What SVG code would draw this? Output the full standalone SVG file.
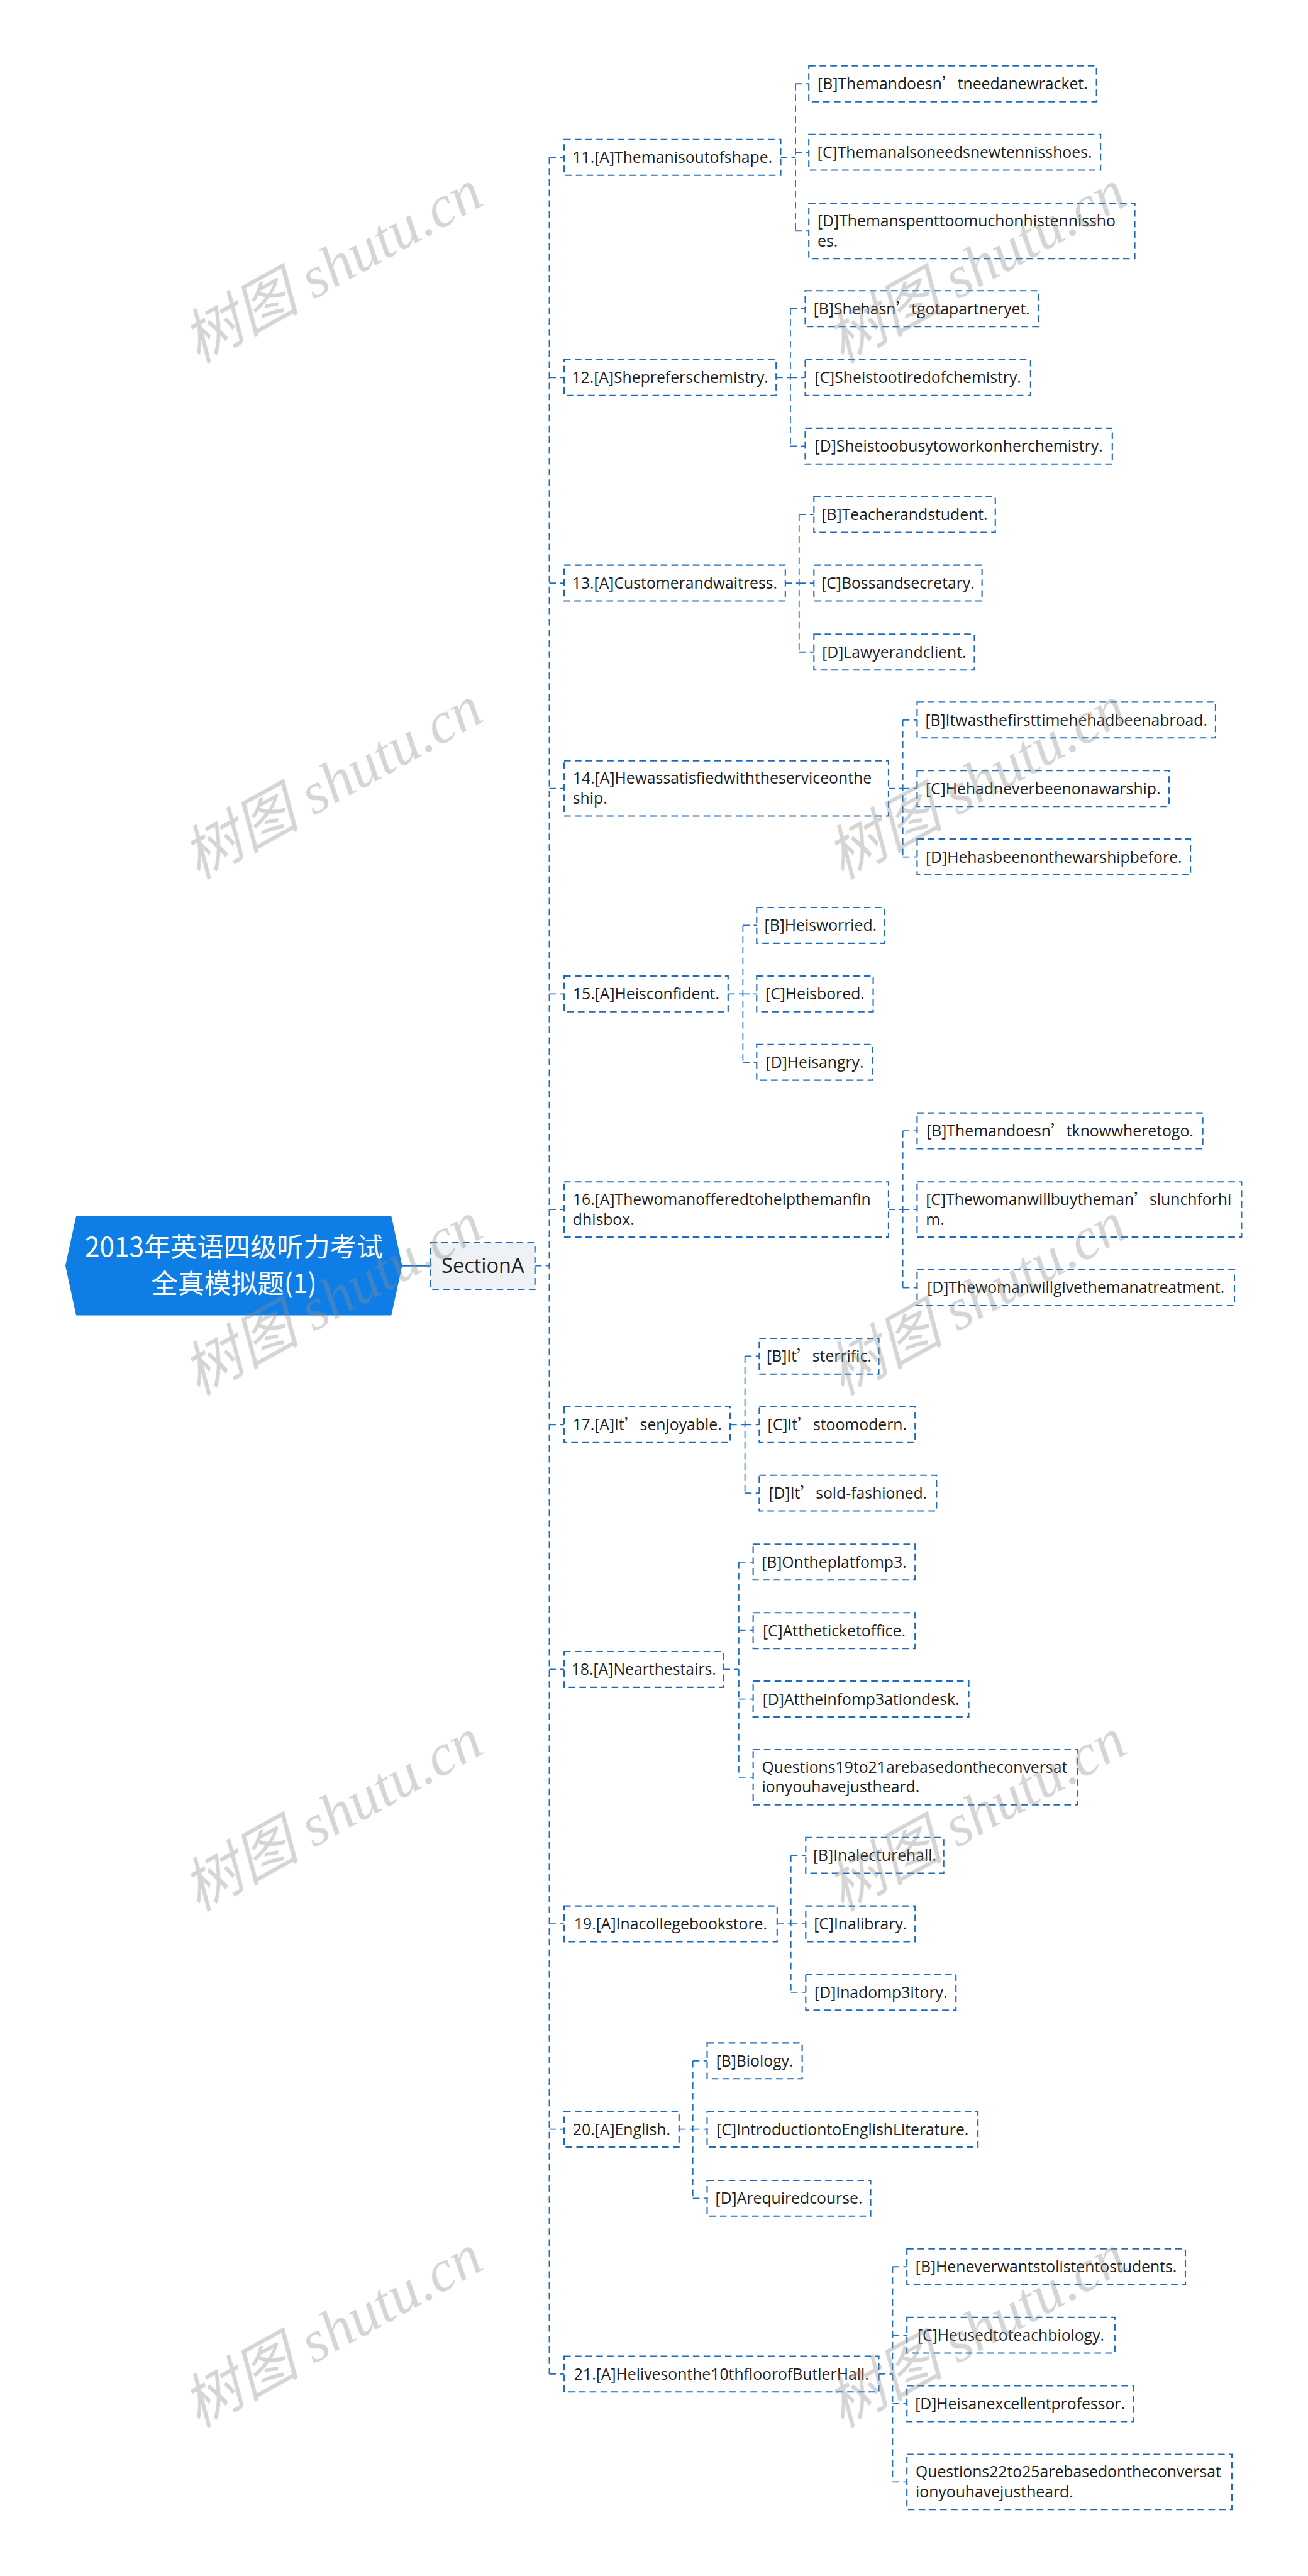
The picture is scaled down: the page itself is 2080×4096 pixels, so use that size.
<svg xmlns="http://www.w3.org/2000/svg" width="2080" height="4096" viewBox="0 0 2080 4096">
<style>
.box{fill:#fff;stroke:#1D6BBA;stroke-width:2.6;stroke-dasharray:13 8}
.sec{fill:#EEF1F5;stroke:#1D6BBA;stroke-width:2.6;stroke-dasharray:13 8}
.t{font-family:"Open Sans","Noto Sans CJK SC",sans-serif;font-size:30.5px;fill:#1e1e1e}
.c{text-anchor:middle}
.q{font-family:"Noto Sans CJK SC",sans-serif}
.conn path{fill:none;stroke:#1E6FC2;stroke-width:2.2;stroke-dasharray:13 8}
.wm{font-family:"Liberation Serif","Noto Sans CJK SC",serif;font-style:italic;font-size:115px;fill:#8f8f8f;opacity:.38;text-anchor:middle}
</style>
<rect width="2080" height="4096" fill="#fff"/>
<g transform="scale(0.8125)">
<g id="connectors" class="conn">
<line x1="787" y1="2477" x2="843" y2="2477" stroke="#1A6FC4" stroke-width="3"/>
<path d="M1047,2477H1075 M1075,308V4646 M1075,308H1104 M1075,739H1104 M1075,1141H1104 M1075,1543H1104 M1075,1945H1104 M1075,2367H1104 M1075,2788H1104 M1075,3267H1104 M1075,3765H1104 M1075,4167H1104 M1075,4646H1104"/>
<path d="M1528,308H1557 M1557,164V452 M1557,164H1583 M1557,298H1583 M1557,452H1583"/>
<path d="M1519,739H1547 M1547,604V873 M1547,604H1576 M1547,739H1576 M1547,873H1576"/>
<path d="M1537,1141H1564 M1564,1007V1276 M1564,1007H1593 M1564,1141H1593 M1564,1276H1593"/>
<path d="M1739,1543H1767 M1767,1409V1677 M1767,1409H1795 M1767,1543H1795 M1767,1677H1795"/>
<path d="M1425,1945H1454 M1454,1811V2079 M1454,1811H1481 M1454,1945H1481 M1454,2079H1481"/>
<path d="M1739,2367H1767 M1767,2213V2520 M1767,2213H1795 M1767,2367H1795 M1767,2520H1795"/>
<path d="M1429,2788H1458 M1458,2654V2922 M1458,2654H1486 M1458,2788H1486 M1458,2922H1486"/>
<path d="M1416,3267H1446 M1446,3057V3478 M1446,3057H1474 M1446,3191H1474 M1446,3325H1474 M1446,3478H1474"/>
<path d="M1521,3765H1548 M1548,3631V3899 M1548,3631H1577 M1548,3765H1577 M1548,3899H1577"/>
<path d="M1329,4167H1356 M1356,4033V4302 M1356,4033H1384 M1356,4167H1384 M1356,4302H1384"/>
<path d="M1720,4646H1747 M1747,4436V4857 M1747,4436H1775 M1747,4570H1775 M1747,4704H1775 M1747,4857H1775"/>
</g>
<g id="n-root">
<polygon points="149,2380 766,2380 787,2477 766,2574 149,2574 128,2477" fill="#0E7EE6"/>
<text x="458" y="2459" font-family="'Noto Sans CJK SC',sans-serif" font-size="52" fill="#fff" text-anchor="middle">2013年英语四级听力考试</text>
<text x="458" y="2530" font-family="'Noto Sans CJK SC',sans-serif" font-size="52" fill="#fff" text-anchor="middle">全真模拟题(1)</text>
</g>
<g id="n-sectionA">
<rect class="sec" x="843" y="2432" width="204" height="91"/>
<text x="945" y="2491" font-family="'Open Sans',sans-serif" font-size="40" fill="#1e1e1e" text-anchor="middle">SectionA</text>
</g>
<g id="n-11"><rect class="box" x="1104" y="273" width="424" height="70"/><text class="t c" x="1316" y="319">11.[A]Themanisoutofshape.</text></g>
<g id="n-11b"><rect class="box" x="1583" y="129" width="563" height="70"/><text class="t c" x="1864.5" y="175">[B]Themandoesn<tspan class="q">’</tspan>tneedanewracket.</text></g>
<g id="n-11c"><rect class="box" x="1583" y="263" width="571" height="70"/><text class="t c" x="1868.5" y="309">[C]Themanalsoneedsnewtennisshoes.</text></g>
<g id="n-11d"><rect class="box" x="1583" y="398" width="638" height="108"/><text class="t"><tspan x="1600" y="443">[D]Themanspenttoomuchonhistennissho</tspan><tspan x="1600" y="482">es.</tspan></text></g>
<g id="n-12"><rect class="box" x="1104" y="704" width="415" height="70"/><text class="t c" x="1311.5" y="750">12.[A]Shepreferschemistry.</text></g>
<g id="n-12b"><rect class="box" x="1576" y="569" width="456" height="70"/><text class="t c" x="1804" y="615">[B]Shehasn<tspan class="q">’</tspan>tgotapartneryet.</text></g>
<g id="n-12c"><rect class="box" x="1576" y="704" width="441" height="70"/><text class="t c" x="1796.5" y="750">[C]Sheistootiredofchemistry.</text></g>
<g id="n-12d"><rect class="box" x="1576" y="838" width="601" height="70"/><text class="t c" x="1876.5" y="884">[D]Sheistoobusytoworkonherchemistry.</text></g>
<g id="n-13"><rect class="box" x="1104" y="1106" width="433" height="70"/><text class="t c" x="1320.5" y="1152">13.[A]Customerandwaitress.</text></g>
<g id="n-13b"><rect class="box" x="1593" y="972" width="355" height="70"/><text class="t c" x="1770.5" y="1018">[B]Teacherandstudent.</text></g>
<g id="n-13c"><rect class="box" x="1593" y="1106" width="329" height="70"/><text class="t c" x="1757.5" y="1152">[C]Bossandsecretary.</text></g>
<g id="n-13d"><rect class="box" x="1593" y="1241" width="314" height="70"/><text class="t c" x="1750" y="1287">[D]Lawyerandclient.</text></g>
<g id="n-14"><rect class="box" x="1104" y="1489" width="635" height="108"/><text class="t"><tspan x="1121" y="1534">14.[A]Hewassatisfiedwiththeserviceonthe</tspan><tspan x="1121" y="1573">ship.</tspan></text></g>
<g id="n-14b"><rect class="box" x="1795" y="1374" width="584" height="70"/><text class="t c" x="2087" y="1420">[B]Itwasthefirsttimehehadbeenabroad.</text></g>
<g id="n-14c"><rect class="box" x="1795" y="1508" width="493" height="70"/><text class="t c" x="2041.5" y="1554">[C]Hehadneverbeenonawarship.</text></g>
<g id="n-14d"><rect class="box" x="1795" y="1642" width="535" height="70"/><text class="t c" x="2062.5" y="1688">[D]Hehasbeenonthewarshipbefore.</text></g>
<g id="n-15"><rect class="box" x="1104" y="1910" width="321" height="70"/><text class="t c" x="1264.5" y="1956">15.[A]Heisconfident.</text></g>
<g id="n-15b"><rect class="box" x="1481" y="1776" width="250" height="70"/><text class="t c" x="1606" y="1822">[B]Heisworried.</text></g>
<g id="n-15c"><rect class="box" x="1481" y="1910" width="228" height="70"/><text class="t c" x="1595" y="1956">[C]Heisbored.</text></g>
<g id="n-15d"><rect class="box" x="1481" y="2044" width="227" height="70"/><text class="t c" x="1594.5" y="2090">[D]Heisangry.</text></g>
<g id="n-16"><rect class="box" x="1104" y="2313" width="635" height="108"/><text class="t"><tspan x="1121" y="2358">16.[A]Thewomanofferedtohelpthemanfin</tspan><tspan x="1121" y="2397">dhisbox.</tspan></text></g>
<g id="n-16b"><rect class="box" x="1795" y="2178" width="559" height="70"/><text class="t c" x="2074.5" y="2224">[B]Themandoesn<tspan class="q">’</tspan>tknowwheretogo.</text></g>
<g id="n-16c"><rect class="box" x="1795" y="2313" width="635" height="108"/><text class="t"><tspan x="1812" y="2358">[C]Thewomanwillbuytheman<tspan class="q">’</tspan>slunchforhi</tspan><tspan x="1812" y="2397">m.</tspan></text></g>
<g id="n-16d"><rect class="box" x="1795" y="2485" width="621" height="70"/><text class="t c" x="2105.5" y="2531">[D]Thewomanwillgivethemanatreatment.</text></g>
<g id="n-17"><rect class="box" x="1104" y="2753" width="325" height="70"/><text class="t c" x="1266.5" y="2799">17.[A]It<tspan class="q">’</tspan>senjoyable.</text></g>
<g id="n-17b"><rect class="box" x="1486" y="2619" width="234" height="70"/><text class="t c" x="1603" y="2665">[B]It<tspan class="q">’</tspan>sterrific.</text></g>
<g id="n-17c"><rect class="box" x="1486" y="2753" width="305" height="70"/><text class="t c" x="1638.5" y="2799">[C]It<tspan class="q">’</tspan>stoomodern.</text></g>
<g id="n-17d"><rect class="box" x="1486" y="2887" width="347" height="70"/><text class="t c" x="1659.5" y="2933">[D]It<tspan class="q">’</tspan>sold-fashioned.</text></g>
<g id="n-18"><rect class="box" x="1104" y="3232" width="312" height="70"/><text class="t c" x="1260" y="3278">18.[A]Nearthestairs.</text></g>
<g id="n-18b"><rect class="box" x="1474" y="3022" width="317" height="70"/><text class="t c" x="1632.5" y="3068">[B]Ontheplatfomp3.</text></g>
<g id="n-18c"><rect class="box" x="1474" y="3156" width="317" height="70"/><text class="t c" x="1632.5" y="3202">[C]Attheticketoffice.</text></g>
<g id="n-18d"><rect class="box" x="1474" y="3290" width="422" height="70"/><text class="t c" x="1685" y="3336">[D]Attheinfomp3ationdesk.</text></g>
<g id="n-18e"><rect class="box" x="1474" y="3424" width="635" height="108"/><text class="t"><tspan x="1491" y="3469">Questions19to21arebasedontheconversat</tspan><tspan x="1491" y="3508">ionyouhavejustheard.</tspan></text></g>
<g id="n-19"><rect class="box" x="1104" y="3730" width="417" height="70"/><text class="t c" x="1312.5" y="3776">19.[A]Inacollegebookstore.</text></g>
<g id="n-19b"><rect class="box" x="1577" y="3596" width="270" height="70"/><text class="t c" x="1712" y="3642">[B]Inalecturehall.</text></g>
<g id="n-19c"><rect class="box" x="1577" y="3730" width="214" height="70"/><text class="t c" x="1684" y="3776">[C]Inalibrary.</text></g>
<g id="n-19d"><rect class="box" x="1577" y="3864" width="294" height="70"/><text class="t c" x="1724" y="3910">[D]Inadomp3itory.</text></g>
<g id="n-20"><rect class="box" x="1104" y="4132" width="225" height="70"/><text class="t c" x="1216.5" y="4178">20.[A]English.</text></g>
<g id="n-20b"><rect class="box" x="1384" y="3998" width="186" height="70"/><text class="t c" x="1477" y="4044">[B]Biology.</text></g>
<g id="n-20c"><rect class="box" x="1384" y="4132" width="530" height="70"/><text class="t c" x="1649" y="4178">[C]IntroductiontoEnglishLiterature.</text></g>
<g id="n-20d"><rect class="box" x="1384" y="4267" width="320" height="70"/><text class="t c" x="1544" y="4313">[D]Arequiredcourse.</text></g>
<g id="n-21"><rect class="box" x="1104" y="4611" width="616" height="70"/><text class="t c" x="1412" y="4657">21.[A]Helivesonthe10thfloorofButlerHall.</text></g>
<g id="n-21b"><rect class="box" x="1775" y="4401" width="545" height="70"/><text class="t c" x="2047.5" y="4447">[B]Heneverwantstolistentostudents.</text></g>
<g id="n-21c"><rect class="box" x="1775" y="4535" width="407" height="70"/><text class="t c" x="1978.5" y="4581">[C]Heusedtoteachbiology.</text></g>
<g id="n-21d"><rect class="box" x="1775" y="4669" width="443" height="70"/><text class="t c" x="1996.5" y="4715">[D]Heisanexcellentprofessor.</text></g>
<g id="n-21e"><rect class="box" x="1775" y="4803" width="636" height="108"/><text class="t"><tspan x="1792" y="4848">Questions22to25arebasedontheconversat</tspan><tspan x="1792" y="4887">ionyouhavejustheard.</tspan></text></g>
<g id="watermarks" class="wm">
<text x="650" y="560" transform="rotate(-29 650 520)">树图 shutu.cn</text>
<text x="650" y="1570" transform="rotate(-29 650 1530)">树图 shutu.cn</text>
<text x="650" y="2580" transform="rotate(-29 650 2540)">树图 shutu.cn</text>
<text x="650" y="3590" transform="rotate(-29 650 3550)">树图 shutu.cn</text>
<text x="650" y="4600" transform="rotate(-29 650 4560)">树图 shutu.cn</text>
<text x="1910" y="560" transform="rotate(-29 1910 520)">树图 shutu.cn</text>
<text x="1910" y="1570" transform="rotate(-29 1910 1530)">树图 shutu.cn</text>
<text x="1910" y="2580" transform="rotate(-29 1910 2540)">树图 shutu.cn</text>
<text x="1910" y="3590" transform="rotate(-29 1910 3550)">树图 shutu.cn</text>
<text x="1910" y="4600" transform="rotate(-29 1910 4560)">树图 shutu.cn</text>
</g>
</g>
</svg>
